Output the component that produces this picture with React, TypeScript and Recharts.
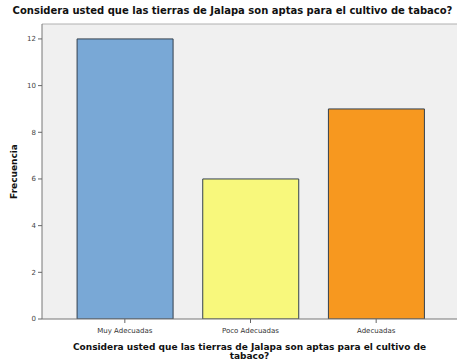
import { BarChart, Bar, XAxis, YAxis, CartesianGrid, Cell, ReferenceLine } from "recharts";

const categories = ["Muy Adecuadas", "Poco Adecuadas", "Adecuadas"];
const frecuencia = [12, 6, 9];
const barColors = ["#79a8d6", "#f8f87c", "#f7981f"];
const yTicks = [0, 2, 4, 6, 8, 10, 12];
const yMax = 12.64;

const title = "Considera usted que las tierras de Jalapa son aptas para el cultivo de tabaco?";

export default function App() {
  const data = categories.map((name, i) => ({ name, value: frecuencia[i] }));

  return (
    <div style={{ position: "absolute", left: 0, top: 0, width: 457, height: 364, background: "#fff", fontFamily: "'DejaVu Sans', sans-serif" }}>
      <div style={{ position: "absolute", left: 4, top: 5, width: 457, textAlign: "center", fontSize: 10, fontWeight: "bold", color: "#111", whiteSpace: "nowrap" }}>
        {title}
      </div>
      <BarChart
        width={457}
        height={364}
        data={data}
        margin={{ top: 24, right: 0, bottom: 25, left: 20 }}
        barCategoryGap="12%"
      >
        <CartesianGrid fill="#f0f0f0" horizontal={false} vertical={false} />
        <XAxis
          dataKey="name"
          padding={{ left: 20, right: 18 }}
          height={20}
          tick={{ fontSize: 7, fill: "#333", dy: 3 }}
          tickSize={4}
          tickLine={{ stroke: "#666" }}
          axisLine={{ stroke: "#777" }}
          interval={0}
        />
        <YAxis
          width={22}
          type="number"
          domain={[0, yMax]}
          allowDataOverflow
          ticks={yTicks}
          tick={{ fontSize: 7, fill: "#444" }}
          tickSize={4}
          tickLine={{ stroke: "#666" }}
          axisLine={{ stroke: "#777" }}
          label={{ value: "Frecuencia", angle: -90, position: "insideLeft", offset: -6, style: { fontSize: 9, fontWeight: "bold", fill: "#111", textAnchor: "middle" } }}
        />
        <ReferenceLine y={yMax} stroke="#b0b0b0" ifOverflow="visible" />
        <Bar dataKey="value" stroke="#34404e" strokeWidth={1} isAnimationActive={false}>
          {data.map((d, i) => (
            <Cell key={d.name} fill={barColors[i]} />
          ))}
        </Bar>
      </BarChart>
      <div style={{ position: "absolute", left: 42, top: 343, width: 415, textAlign: "center", fontSize: 9, fontWeight: "bold", color: "#111", lineHeight: "9px" }}>
        Considera usted que las tierras de Jalapa son aptas para el cultivo de
        <br />
        tabaco?
      </div>
    </div>
  );
}
